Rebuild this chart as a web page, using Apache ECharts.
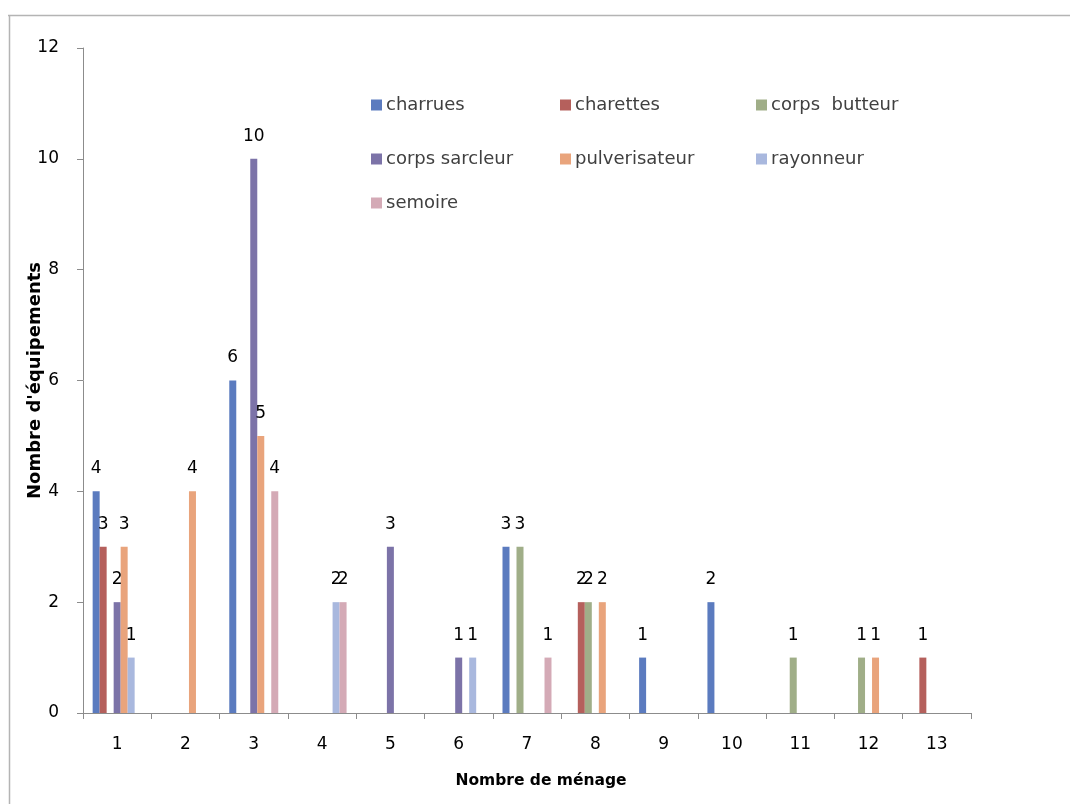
<!DOCTYPE html>
<html>
<head>
<meta charset="utf-8">
<script src="https://cdn.jsdelivr.net/npm/echarts@6/dist/echarts.min.js"></script>
<style>html,body{margin:0;padding:0;background:#fff}#c{width:1070px;height:804px}</style>
</head>
<body>
<div id="c"></div>
<script>
const categories = ['1','2','3','4','5','6','7','8','9','10','11','12','13'];
const seriesNames = ['charrues','charettes','corps  butteur','corps sarcleur','pulverisateur','rayonneur','semoire'];
const charrues      = [4, null, 6, null, null, null, 3, null, 1, 2, null, null, null];
const charettes     = [3, null, null, null, null, null, null, 2, null, null, null, null, 1];
const corpsButteur  = [null, null, null, null, null, null, 3, 2, null, null, 1, 1, null];
const corpsSarcleur = [2, null, 10, null, 3, 1, null, null, null, null, null, null, null];
const pulverisateur = [3, 4, 5, null, null, null, null, 2, null, null, null, 1, null];
const rayonneur     = [1, null, null, 2, null, 1, null, null, null, null, null, null, null];
const semoire       = [null, null, 4, 2, null, null, 1, null, null, null, null, null, null];
const yTicks = [0, 2, 4, 6, 8, 10, 12];

const allData = [charrues, charettes, corpsButteur, corpsSarcleur, pulverisateur, rayonneur, semoire];
const colors = ['#5b7bbf', '#b5605c', '#a0ae88', '#7c73a8', '#e9a47c', '#a9b8de', '#d4aab6'];
const legendPos = [
  [366, 91], [555, 91], [751, 91],
  [366, 145], [555, 145], [751, 145],
  [366, 189]
];
const FONT = 'DejaVu Sans';

const chart = echarts.init(document.getElementById('c'));
chart.setOption({
  animation: false,
  backgroundColor: '#fff',
  color: colors,
  graphic: [
    { type: 'line', shape: { x1: 8, y1: 15.5, x2: 1070, y2: 15.5 }, style: { stroke: '#b4b4b4', lineWidth: 1.5 } },
    { type: 'line', shape: { x1: 9.5, y1: 15, x2: 9.5, y2: 804 }, style: { stroke: '#b4b4b4', lineWidth: 1.5 } }
  ],
  legend: seriesNames.map((n, i) => ({
    data: [{ name: n, icon: 'rect' }],
    left: legendPos[i][0],
    top: legendPos[i][1],
    itemWidth: 11,
    itemHeight: 11,
    itemGap: 4,
    textStyle: { fontFamily: FONT, fontSize: 18, color: '#404040', padding: [0, 0, 0, -1] }
  })),
  grid: { left: 83, right: 99, top: 48, bottom: 91, containLabel: false },
  xAxis: {
    type: 'category',
    data: categories,
    boundaryGap: true,
    name: 'Nombre de ménage',
    nameLocation: 'middle',
    nameGap: 60,
    nameMoveOverlap: false,
    nameTextStyle: { fontFamily: FONT, fontSize: 15.5, fontWeight: 'bold', color: '#000', padding: [0, 0, 0, 28] },
    axisLine: { lineStyle: { color: '#8c8c8c', width: 1 } },
    axisTick: { show: true, length: 6, interval: 0, alignWithLabel: false, lineStyle: { color: '#8c8c8c' } },
    axisLabel: { fontFamily: FONT, fontSize: 17, color: '#000', margin: 23, interval: 0 },
    splitLine: { show: false }
  },
  yAxis: {
    type: 'value',
    min: 0,
    max: 12,
    interval: 2,
    name: "Nombre d'équipements",
    nameLocation: 'middle',
    nameGap: 39,
    nameMoveOverlap: false,
    nameTextStyle: { fontFamily: FONT, fontSize: 18, fontWeight: 'bold', color: '#000' },
    axisLine: { show: true, lineStyle: { color: '#8c8c8c', width: 1 } },
    axisTick: { show: true, length: 6, lineStyle: { color: '#8c8c8c' } },
    axisLabel: { fontFamily: FONT, fontSize: 17, color: '#000', margin: 24,
      formatter: v => yTicks.includes(v) ? String(v) : '' },
    splitLine: { show: false }
  },
  series: seriesNames.map((n, i) => ({
    name: n,
    type: 'bar',
    data: allData[i],
    barWidth: 7,
    barGap: '0%',
    itemStyle: { color: colors[i] },
    label: {
      show: true,
      position: 'top',
      distance: 14,
      fontFamily: FONT,
      fontSize: 17,
      color: '#000',
      formatter: p => (p.value == null ? '' : String(p.value))
    }
  }))
});
</script>
</body>
</html>
